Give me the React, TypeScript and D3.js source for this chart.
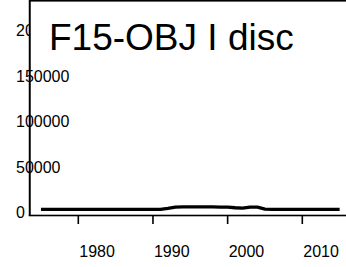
import React from "react";
import * as d3 from "d3";

const years = d3.range(1975, 2016);
const values = [
  3500, 3500, 3500, 3500, 3500, 3500, 3500, 3500, 3500, 3500,
  3500, 3500, 3500, 3500, 3500, 3500, 3500, 4500, 6000, 6100,
  6100, 6100, 6100, 6100, 6000, 5800, 5200, 4800, 6000, 5800,
  3800, 3500, 3500, 3500, 3500, 3500, 3500, 3500, 3500, 3500, 3500,
];
const xTicks = [1980, 1990, 2000, 2010];
const yTicks = [0, 50000, 100000, 150000, 200000];
const title = "F15-OBJ I disc";

export default function App() {
  const W = 346, H = 267;
  const x = d3.scaleLinear().domain([1980, 2010]).range([78.3, 302.3]);
  const y = d3.scaleLinear().domain([0, 200000]).range([212.5, 30.5]);
  const line = d3.line<number>().x((_, i) => x(years[i])).y((d) => y(d));
  const font = "'Liberation Sans', Arial, sans-serif";
  const axisY = 215.5;
  const axisX = 29.75;
  return (
    <svg width={W} height={H} style={{ position: "absolute", left: 0, top: 0, background: "#fff" }}>
      {yTicks.map((t) => (
        <text key={t} x={16} y={y(t) + 5.8} fontFamily={font} fontSize={16} fill="#000">
          {t}
        </text>
      ))}
      <rect x={axisX} y={0.75} width={W} height={58} fill="#fff" />
      <rect x={axisX} y={0} width={W} height={1.6} fill="#000" />
      <text x={49} y={50} fontFamily={font} fontSize={37} fill="#000">
        {title}
      </text>
      <path d={`M${axisX},0V${axisY}`} stroke="#000" strokeWidth={2} fill="none" />
      <rect x={axisX - 1} y={axisY - 0.8} width={W} height={1.6} fill="#000" />
      {xTicks.map((t) => (
        <g key={t}>
          <rect x={x(t) - 0.8} y={axisY} width={1.6} height={8.5} fill="#000" />
          <text x={x(t) + 1} y={257} fontFamily={font} fontSize={16} fill="#000">
            {t}
          </text>
        </g>
      ))}
      <path d={line(values) || ""} fill="none" stroke="#000" strokeWidth={3.3} strokeLinejoin="round" />
    </svg>
  );
}
